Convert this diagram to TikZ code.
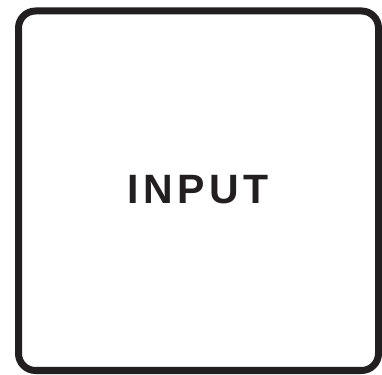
\documentclass[tikz,border=0pt]{standalone}
\usepackage{fontspec}
\setmainfont{Liberation Sans}
\usetikzlibrary{positioning}

\definecolor{ink}{HTML}{231F20}

\begin{document}
\begin{tikzpicture}[
  x=1pt, y=1pt,
  frame/.style={draw=ink, line width=7pt, rounded corners=17pt},
  label/.style={text=ink, font=\fontsize{41}{44}\selectfont\bfseries\addfontfeatures{LetterSpace=11}, inner sep=0pt},
]
\useasboundingbox (0,0) rectangle (382,374);

%% outer box
\draw[frame] (18.5,3.5) rectangle (378.5,363);

%% text
\node[label, anchor=center] (input) at (198,184.5) {INPUT};
\end{tikzpicture}
\end{document}
